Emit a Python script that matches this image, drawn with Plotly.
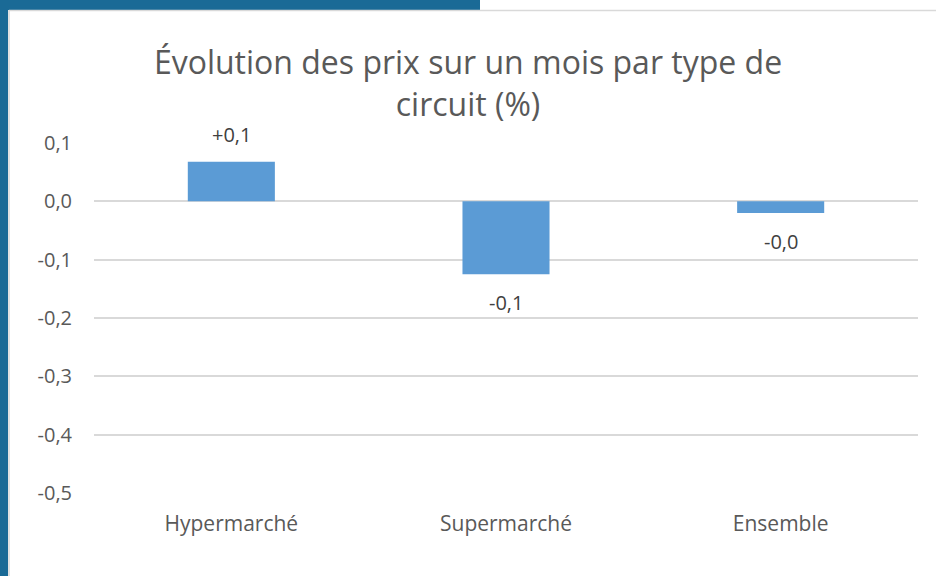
import plotly.graph_objects as go

categories = ["Hypermarché", "Supermarché", "Ensemble"]
values = [0.068, -0.125, -0.02]
value_labels = ["+0,1", "-0,1", "-0,0"]
tick_vals = [0.1, 0.0, -0.1, -0.2, -0.3, -0.4, -0.5]
tick_text = ["0,1", "0,0", "-0,1", "-0,2", "-0,3", "-0,4", "-0,5"]
title_text = "Évolution des prix sur un mois par type de<br>circuit (%)"

W, H = 936, 576
L, R, T, B = 94, 18, 143, 83
pw, ph = W - L - R, H - T - B

def px(x):
    return (x - L) / pw

def py(y):
    return (H - B - y) / ph

FONT = "Open Sans"
fig = go.Figure(go.Bar(
    x=categories, y=values,
    marker=dict(color="#5b9bd5", line=dict(width=0)), width=0.317,
    cliponaxis=False, hoverinfo="skip",
))

annotations = []
for c, v, t in zip(categories, values, value_labels):
    annotations.append(dict(
        x=c, y=v, xref="x", yref="y", text=t, showarrow=False,
        yanchor="middle", yshift=27 if v >= 0 else -28,
        font=dict(family=FONT, size=20, color="#404040"),
    ))

shapes = [
    dict(type="rect", xref="paper", yref="paper", x0=px(0), x1=px(8), y0=py(576), y1=py(0),
         fillcolor="#1a6a96", line=dict(width=0), layer="above"),
    dict(type="rect", xref="paper", yref="paper", x0=px(0), x1=px(480), y0=py(10), y1=py(0),
         fillcolor="#1a6a96", line=dict(width=0), layer="above"),
    dict(type="line", xref="paper", yref="paper", x0=px(9), x1=px(9), y0=py(576), y1=py(10),
         line=dict(color="#d9d9d9", width=1.5)),
    dict(type="line", xref="paper", yref="paper", x0=px(9), x1=px(936), y0=py(10.5), y1=py(10.5),
         line=dict(color="#d9d9d9", width=1.5)),
]

fig.update_layout(
    width=W, height=H, margin=dict(l=L, r=R, t=T, b=B),
    paper_bgcolor="white", plot_bgcolor="white",
    title=dict(text=title_text, x=0.5, xref="container", xanchor="center",
               y=1 - 74 / H, yref="container", yanchor="middle",
               font=dict(family=FONT, size=32, color="#595959")),
    xaxis=dict(showgrid=False, showline=False, ticks="", ticklabelstandoff=16,
               tickfont=dict(family=FONT, size=21, color="#595959")),
    yaxis=dict(range=[-0.5, 0.1], tickvals=tick_vals, ticktext=tick_text,
               showgrid=True, gridcolor="#d9d9d9", gridwidth=1.5, zeroline=False,
               showline=False, ticks="", ticklabelstandoff=21,
               tickfont=dict(family=FONT, size=20, color="#595959")),
    shapes=shapes, annotations=annotations, showlegend=False,
)

fig.write_html("out.html", config={"displayModeBar": False},
               post_script="document.body.style.margin='0';")
